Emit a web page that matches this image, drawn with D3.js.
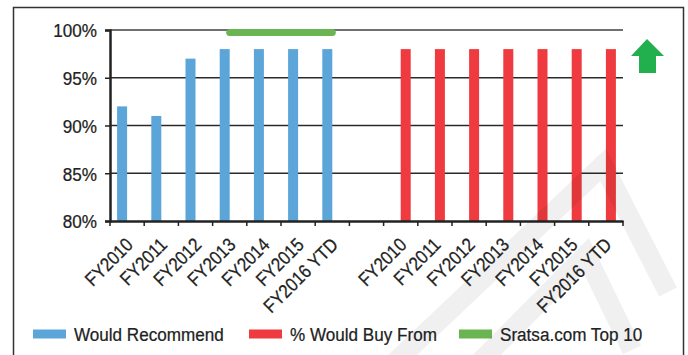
<!DOCTYPE html>
<html>
<head>
<meta charset="utf-8">
<script src="https://cdn.jsdelivr.net/npm/d3@7"></script>
<style>
  html, body { margin: 0; padding: 0; background: #fff; }
  svg { display: block; font-family: "Liberation Sans", Arial, sans-serif; }
  .lbl { fill: #222; stroke: #222; stroke-width: 0.25px; }
</style>
</head>
<body>
<div id="chart"></div>
<script>
// Chart data
const years = ["FY2010", "FY2011", "FY2012", "FY2013", "FY2014", "FY2015", "FY2016 YTD"];
const wouldRecommend = [92, 91, 97, 98, 98, 98, 98];
const wouldBuyFrom = [98, 98, 98, 98, 98, 98, 98];
const top10Years = ["FY2013", "FY2014", "FY2015", "FY2016 YTD"];
const top10Values = [99.75, 99.75, 99.75, 99.75];
const yTicks = [80, 85, 90, 95, 100];
const seriesNames = ["Would Recommend", "% Would Buy From", "Sratsa.com Top 10"];
const colors = ["#5ca5d9", "#ef3b3f", "#6ab451"];

// Dimensions
const width = 688;
const height = 355;
const plot = { left: 110, right: 623, top: 30, bottom: 221 };

const svg = d3.select("#chart").append("svg")
    .attr("width", width)
    .attr("height", height);

// Outer frame
svg.append("rect")
    .attr("x", 13.5).attr("y", 7.5)
    .attr("width", 670).attr("height", 360)
    .attr("fill", "none")
    .attr("stroke", "#333")
    .attr("stroke-width", 1.5);

// One slot per year for each series with an empty slot between them
const slots = years.map(d => "R|" + d).concat(["gap"], years.map(d => "B|" + d));

const x = d3.scaleBand()
    .domain(slots)
    .range([plot.left, plot.right]);

const x1 = d3.scaleBand()
    .domain(["R", "B"])
    .range([0, 20]);

const y = d3.scaleLinear()
    .domain([80, 100])
    .range([plot.bottom, plot.top]);

// Grid lines
svg.append("g").selectAll("line")
    .data(yTicks.filter(d => d > 80))
    .enter().append("line")
    .attr("x1", plot.left).attr("x2", plot.right)
    .attr("y1", d => y(d)).attr("y2", d => y(d))
    .attr("stroke", d => d === 100 ? "#707070" : "#2a2a2a")
    .attr("stroke-width", d => d === 100 ? 2 : 1.5);

// Bars
const barData = [];
years.forEach((yr, i) => {
    barData.push({ slot: "R|" + yr, key: "R", value: wouldRecommend[i] });
    barData.push({ slot: "B|" + yr, key: "B", value: wouldBuyFrom[i] });
});

const groupOffset = (x.bandwidth() - 20) / 2;
svg.append("g").selectAll("rect")
    .data(barData)
    .enter().append("rect")
    .attr("x", d => x(d.slot) + groupOffset + x1(d.key))
    .attr("y", d => y(d.value))
    .attr("width", x1.bandwidth())
    .attr("height", d => y(80) - y(d.value))
    .attr("fill", d => d.key === "R" ? colors[0] : colors[1]);

// Top 10 line
const line = d3.line()
    .x(d => x("R|" + d.year) + x.bandwidth() / 2)
    .y(d => y(d.value));

const topData = top10Years.map((d, i) => ({ year: d, value: top10Values[i] }));
svg.append("path")
    .datum(topData)
    .attr("d", line)
    .attr("fill", "none")
    .attr("stroke", colors[2])
    .attr("stroke-width", 7)
    .attr("stroke-linecap", "round")
    .attr("stroke-linejoin", "round");

// Y axis
const yAxis = svg.append("g")
    .attr("transform", "translate(" + plot.left + ",0)")
    .call(d3.axisLeft(y).tickValues(yTicks).tickSize(5).tickFormat(d => d + "%"));
yAxis.select(".domain").attr("stroke", "#222").attr("stroke-width", 2.5);
yAxis.selectAll(".tick line").attr("stroke", "#222").attr("stroke-width", 1.5);
yAxis.selectAll(".tick text")
    .attr("class", "lbl")
    .attr("x", 0)
    .attr("dy", "0.36em")
    .attr("transform", "translate(-13,0) scale(0.9,1)")
    .style("font-size", "19px");

// X axis
const xAxis = svg.append("g")
    .attr("transform", "translate(0," + plot.bottom + ")")
    .call(d3.axisBottom(x).tickSize(0).tickFormat(d => d === "gap" ? "" : d.split("|")[1]));
xAxis.select(".domain").attr("stroke", "#222").attr("stroke-width", 2.5);
xAxis.selectAll(".tick text")
    .attr("class", "lbl")
    .style("font-size", "19px")
    .style("text-anchor", "end")
    .attr("y", 0)
    .attr("dy", 0)
    .attr("transform", "translate(7,25) rotate(-45) scale(0.88,1)");

// Tick marks at slot boundaries
const bounds = slots.map(d => x(d)).concat([x(slots[slots.length - 1]) + x.bandwidth()]);
xAxis.selectAll(".bound")
    .data(bounds)
    .enter().append("line")
    .attr("class", "bound")
    .attr("x1", d => d).attr("x2", d => d)
    .attr("y1", 0).attr("y2", 5)
    .attr("stroke", "#222")
    .attr("stroke-width", 1.5);

// Up arrow
svg.append("path")
    .attr("d", "M647,39 L664,56 L656,56 L656,73 L639,73 L639,56 L631,56 Z")
    .attr("fill", "#22b04f");

// Legend
const legendX = [33, 249, 459];
const legend = svg.append("g").selectAll("g")
    .data(seriesNames)
    .enter().append("g")
    .attr("transform", (d, i) => "translate(" + legendX[i] + ",334)");

legend.append("rect")
    .attr("x", 0).attr("y", -4.5)
    .attr("width", 33).attr("height", 9)
    .attr("fill", (d, i) => colors[i]);

legend.append("text")
    .attr("class", "lbl")
    .attr("transform", "translate(41,0) scale(0.9,1)")
    .attr("dy", "0.36em")
    .style("font-size", "19px")
    .text(d => d);

// Faint watermark
const mark = svg.append("g")
    .attr("fill", "none")
    .attr("stroke", "#000")
    .attr("stroke-opacity", 0.06)
    .attr("stroke-width", 20);
mark.append("path").attr("d", "M392,365 L603,165 L668,292");
mark.append("path").attr("d", "M470,372 L586,255 L632,350");
</script>
</body>
</html>
